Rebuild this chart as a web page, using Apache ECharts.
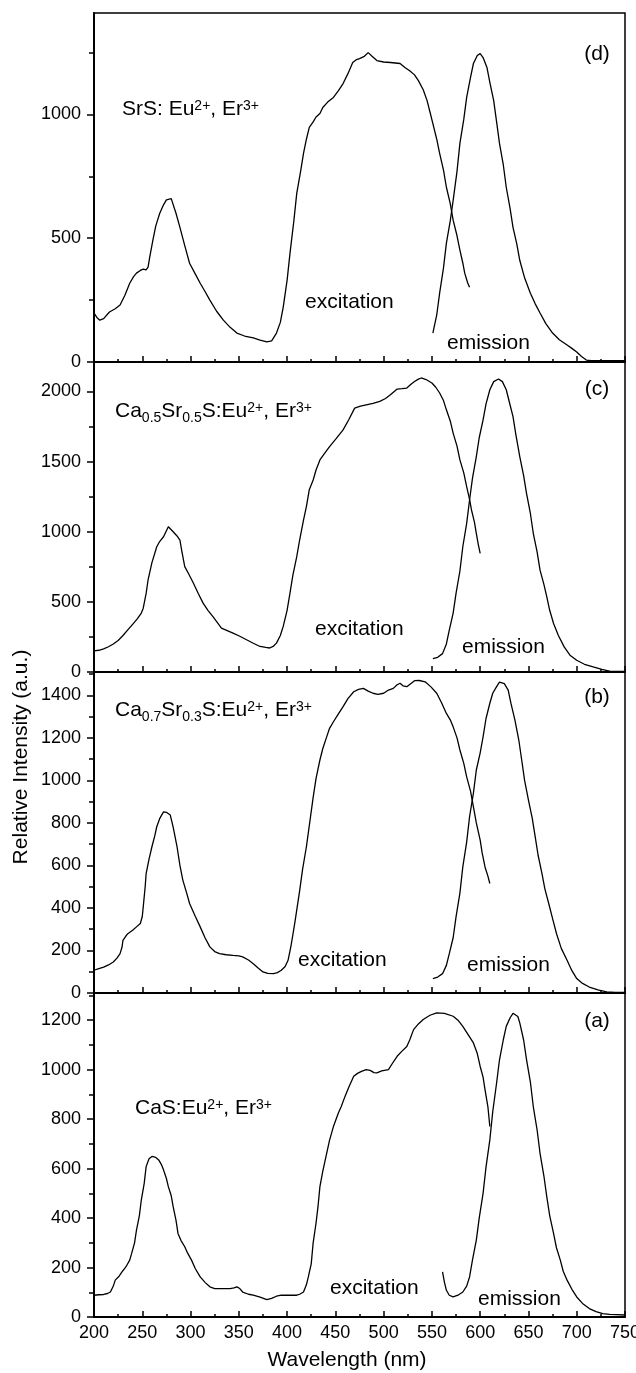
<!DOCTYPE html>
<html>
<head>
<meta charset="utf-8">
<script src="https://cdn.jsdelivr.net/npm/echarts@6/dist/echarts.min.js"></script>
<style>
html, body { margin: 0; padding: 0; background: #fff; }
#main { width: 636px; height: 1373px; }
</style>
</head>
<body>
<div id="main"></div>
<script>
// panels top to bottom: (d) SrS, (c) Ca0.5Sr0.5S, (b) Ca0.7Sr0.3S, (a) CaS
var wavelengthTicks = [200, 250, 300, 350, 400, 450, 500, 550, 600, 650, 700, 750];
var panelTags = ['(d)', '(c)', '(b)', '(a)'];
var yMax = [1410, 2210, 1510, 1310];
var yMajor = [
    [0, 500, 1000],
    [0, 500, 1000, 1500, 2000],
    [0, 200, 400, 600, 800, 1000, 1200, 1400],
    [0, 200, 400, 600, 800, 1000, 1200]
];
var yMinor = [
    [250, 750, 1250],
    [250, 750, 1250, 1750],
    [100, 300, 500, 700, 900, 1100, 1300, 1500],
    [100, 300, 500, 700, 900, 1100, 1300]
];

// [wavelength nm, intensity]
var exD = [[200,197],[203,180],[206,169],[210,175],[216,202],[222,215],[227,230],[232,270],[237,318],[241,345],[244,359],[248,370],[251,375],[254,372],[256,383],[258,430],[261,492],[264,550],[268,600],[272,635],[275,655],[277,661],[280,660],[282,653],[285,600],[289,544],[294,470],[299,399],[305,355],[310,318],[315,285],[320,250],[327,205],[334,169],[341,140],[348,117],[356,105],[365,97],[372,88],[379,81],[384,85],[389,117],[393,160],[396,222],[400,330],[403,439],[407,570],[410,681],[414,770],[417,843],[420,900],[423,948],[427,970],[430,990],[434,1004],[437,1028],[442,1050],[448,1069],[453,1095],[458,1125],[463,1165],[468,1210],[472,1222],[475,1226],[480,1235],[484,1250],[488,1235],[493,1218],[500,1212],[507,1210],[512,1208],[517,1206],[522,1190],[527,1177],[532,1160],[536,1137],[541,1100],[545,1056],[548,1010],[551,963],[555,900],[558,843],[562,775],[565,706],[569,640],[572,573],[576,510],[579,452],[582,400],[584,359],[587,320],[589,302]];
var emD = [[551,117],[555,190],[558,278],[562,380],[565,480],[569,570],[572,653],[576,770],[579,883],[583,980],[586,1069],[590,1150],[593,1206],[597,1238],[600,1246],[603,1230],[607,1190],[610,1130],[614,1056],[617,970],[620,883],[624,795],[627,706],[631,620],[634,544],[638,475],[641,411],[646,340],[652,278],[657,235],[662,198],[668,155],[675,117],[682,90],[690,69],[695,55],[700,40],[705,22],[710,8],[715,5],[730,5],[750,5]];

var exC = [[200,150],[205,155],[210,165],[215,180],[220,200],[225,225],[230,260],[235,300],[240,340],[245,380],[249,420],[251,455],[254,560],[256,656],[260,780],[265,893],[268,930],[272,964],[277,1036],[279,1030],[282,1000],[286,970],[289,941],[291,860],[294,751],[298,700],[303,633],[308,560],[313,491],[318,440],[323,396],[328,350],[332,313],[338,295],[344,277],[351,255],[358,230],[365,205],[372,182],[378,175],[382,171],[386,185],[389,206],[393,260],[396,325],[400,440],[403,562],[406,690],[410,822],[413,941],[417,1083],[420,1179],[423,1300],[427,1369],[430,1440],[434,1512],[439,1560],[444,1607],[451,1665],[458,1726],[464,1800],[470,1881],[476,1895],[482,1905],[489,1915],[496,1929],[502,1950],[507,1976],[511,2000],[514,2017],[519,2020],[524,2024],[528,2050],[532,2071],[536,2088],[539,2096],[544,2085],[550,2060],[554,2030],[558,1989],[562,1935],[565,1869],[569,1790],[572,1703],[576,1610],[579,1512],[583,1420],[586,1321],[589,1230],[591,1155],[594,1070],[596,989],[598,910],[600,846]];
var emC = [[551,96],[556,105],[561,131],[565,200],[568,298],[572,420],[575,560],[579,720],[582,893],[586,1060],[589,1226],[592,1380],[596,1536],[599,1670],[603,1798],[606,1910],[610,2012],[614,2070],[619,2089],[623,2070],[627,2012],[630,1930],[634,1821],[637,1690],[641,1536],[645,1400],[648,1274],[652,1130],[655,989],[659,855],[662,726],[666,625],[669,536],[672,440],[676,346],[681,260],[687,179],[693,120],[700,84],[708,55],[717,36],[726,18],[735,5],[750,5]];

var exB = [[200,107],[205,115],[210,122],[215,132],[220,146],[224,165],[227,185],[229,215],[230,248],[233,268],[235,279],[240,295],[244,311],[248,327],[250,360],[251,405],[253,500],[254,562],[257,630],[260,688],[263,740],[265,782],[268,820],[272,852],[275,850],[279,837],[282,780],[286,688],[289,600],[292,531],[296,470],[299,421],[305,360],[310,311],[315,260],[320,217],[325,195],[330,185],[337,180],[344,177],[350,175],[354,170],[360,155],[365,138],[370,118],[375,99],[380,92],[386,91],[390,96],[394,107],[398,125],[401,154],[404,220],[408,330],[411,420],[413,480],[416,580],[420,688],[424,820],[427,920],[430,1010],[434,1096],[437,1150],[441,1205],[444,1245],[448,1276],[453,1312],[458,1347],[463,1385],[469,1417],[474,1428],[479,1433],[484,1420],[489,1410],[494,1405],[500,1410],[505,1425],[510,1433],[514,1450],[517,1457],[520,1445],[524,1441],[528,1455],[532,1469],[537,1470],[543,1464],[549,1440],[555,1410],[560,1365],[565,1315],[569,1285],[572,1252],[576,1200],[579,1143],[583,1080],[586,1017],[590,950],[593,876],[596,800],[600,719],[602,660],[605,593],[608,550],[610,515]];
var emB = [[551,68],[556,75],[561,91],[565,130],[568,185],[572,260],[575,358],[579,470],[582,593],[586,710],[589,829],[593,940],[596,1049],[600,1130],[603,1205],[606,1290],[610,1363],[613,1410],[617,1441],[620,1462],[622,1469],[625,1455],[629,1425],[632,1360],[636,1284],[640,1190],[643,1096],[646,1000],[650,907],[654,820],[657,734],[660,648],[664,562],[667,490],[671,421],[675,350],[679,280],[684,210],[690,154],[695,105],[700,68],[706,45],[713,28],[722,15],[731,5],[740,3],[750,3]];

var exA = [[200,88],[205,90],[210,91],[214,95],[217,101],[220,125],[222,149],[226,165],[229,182],[232,198],[234,209],[237,230],[239,257],[242,300],[244,351],[247,410],[249,473],[252,540],[254,608],[257,640],[260,649],[264,645],[267,635],[270,615],[272,595],[275,560],[277,527],[280,490],[282,446],[285,390],[287,338],[290,310],[294,284],[297,258],[301,230],[305,195],[310,162],[315,140],[320,122],[325,115],[330,115],[335,115],[341,115],[345,118],[348,122],[351,115],[354,101],[360,92],[365,88],[372,80],[379,70],[384,75],[389,84],[394,88],[399,88],[405,88],[410,88],[413,92],[417,101],[420,130],[422,162],[425,215],[427,300],[430,380],[432,446],[434,527],[437,590],[441,662],[444,715],[448,770],[453,824],[456,850],[460,892],[464,930],[469,973],[473,985],[477,993],[482,1000],[486,997],[490,988],[493,987],[498,995],[505,1000],[509,1025],[514,1054],[519,1075],[524,1094],[527,1120],[531,1162],[536,1185],[541,1203],[548,1220],[555,1230],[563,1228],[572,1216],[577,1200],[582,1175],[587,1145],[593,1108],[597,1065],[600,1013],[603,970],[605,919],[608,850],[610,770]];
var emA = [[561,182],[563,140],[565,108],[568,88],[572,81],[577,88],[582,101],[586,125],[589,162],[592,230],[596,311],[599,400],[603,500],[606,605],[610,716],[613,830],[617,946],[620,1040],[624,1122],[627,1175],[631,1210],[634,1228],[636,1230],[639,1215],[641,1189],[645,1120],[648,1041],[652,950],[655,851],[659,755],[662,662],[666,570],[669,486],[672,410],[676,338],[679,280],[683,230],[686,185],[690,149],[695,112],[700,81],[706,55],[713,34],[720,22],[727,14],[734,11],[741,10],[750,8]];

var excitation = [exD, exC, exB, exA];
var emission = [emD, emC, emB, emA];

var FONT = '"Liberation Sans", Arial, Helvetica, sans-serif';
var gridTop = [13, 362, 672, 993];
var gridHeight = [349, 310, 321, 324];

var myChart = echarts.init(document.getElementById('main'));

function plain(v) {
    return String(v);
}

var grids = [], xAxes = [], yAxes = [], series = [];
for (var i = 0; i < 4; i++) {
    grids.push({
        left: 94, width: 531, top: gridTop[i], height: gridHeight[i],
        containLabel: false, outerBoundsMode: 'none',
        show: true, borderColor: '#000', borderWidth: 1.5, backgroundColor: 'transparent'
    });
    xAxes.push({
        type: 'value', gridIndex: i, min: 200, max: 750, interval: 50,
        axisLine: {show: true, onZero: false, lineStyle: {color: '#000', width: 2}},
        axisTick: {show: true, inside: true, length: 6, lineStyle: {color: '#000', width: 1.5}},
        minorTick: {show: true, splitNumber: 2, length: 3, lineStyle: {color: '#000', width: 1.5}},
        axisLabel: {show: i === 3, color: '#000', fontSize: 18, fontFamily: FONT, margin: 7,
            customValues: wavelengthTicks, formatter: plain, hideOverlap: false},
        splitLine: {show: false}
    });
    yAxes.push({
        type: 'value', gridIndex: i, min: 0, max: yMax[i],
        interval: yMajor[i][1] - yMajor[i][0],
        axisLine: {show: true, onZero: false, lineStyle: {color: '#000', width: 2}},
        axisTick: {show: true, inside: false, length: 7, customValues: yMajor[i],
            lineStyle: {color: '#000', width: 1.5}},
        axisLabel: {color: '#000', fontSize: 18, fontFamily: FONT, margin: 13,
            customValues: yMajor[i], formatter: plain, hideOverlap: false},
        splitLine: {show: false}
    });
}
// second y axis in each panel, only for the short minor ticks
for (var j = 0; j < 4; j++) {
    yAxes.push({
        type: 'value', gridIndex: j, position: 'left', offset: 0, min: 0, max: yMax[j],
        axisLine: {show: false},
        axisTick: {show: true, inside: false, length: 5, customValues: yMinor[j],
            lineStyle: {color: '#000', width: 1.5}},
        axisLabel: {show: false},
        splitLine: {show: false}
    });
}
for (var k = 0; k < 4; k++) {
    [excitation[k], emission[k]].forEach(function (d, n) {
        series.push({
            name: n === 0 ? 'excitation' : 'emission',
            type: 'line', xAxisIndex: k, yAxisIndex: k, data: d,
            showSymbol: false, symbol: 'none', smooth: false,
            lineStyle: {color: '#000', width: 1.3},
            silent: true
        });
    });
}

var rich = {
    m: {fontSize: 21, fontFamily: FONT, color: '#000', lineHeight: 22},
    sup: {fontSize: 14, fontFamily: FONT, color: '#000', verticalAlign: 'top', height: 17},
    sub: {fontSize: 14, fontFamily: FONT, color: '#000', verticalAlign: 'bottom', height: 8}
};
function txt(x, y, s, align) {
    return {
        type: 'text', x: x, y: y, silent: true,
        style: {text: s, rich: rich, fill: '#000', font: '21px ' + FONT,
            textAlign: align || 'left', textVerticalAlign: 'middle'}
    };
}
var sampleLabels = [
    '{m|SrS: Eu}{sup|2+}{m|, Er}{sup|3+}',
    '{m|Ca}{sub|0.5}{m|Sr}{sub|0.5}{m|S:Eu}{sup|2+}{m|, Er}{sup|3+}',
    '{m|Ca}{sub|0.7}{m|Sr}{sub|0.3}{m|S:Eu}{sup|2+}{m|, Er}{sup|3+}',
    '{m|CaS:Eu}{sup|2+}{m|, Er}{sup|3+}'
];
var graphics = [
    txt(122, 109, sampleLabels[0]),
    txt(115, 411, sampleLabels[1]),
    txt(115, 710, sampleLabels[2]),
    txt(135, 1108, sampleLabels[3]),
    txt(597, 54, '{m|' + panelTags[0] + '}', 'center'),
    txt(597, 389, '{m|' + panelTags[1] + '}', 'center'),
    txt(597, 697, '{m|' + panelTags[2] + '}', 'center'),
    txt(597, 1021, '{m|' + panelTags[3] + '}', 'center'),
    txt(305, 302, '{m|excitation}'),
    txt(447, 343, '{m|emission}'),
    txt(315, 629, '{m|excitation}'),
    txt(462, 647, '{m|emission}'),
    txt(298, 960, '{m|excitation}'),
    txt(467, 965, '{m|emission}'),
    txt(330, 1288, '{m|excitation}'),
    txt(478, 1299, '{m|emission}'),
    txt(347, 1360, '{m|Wavelength (nm)}', 'center'),
    {
        type: 'text', x: 21, y: 757, rotation: Math.PI / 2, silent: true,
        style: {text: 'Relative Intensity (a.u.)', fill: '#000', font: '21px ' + FONT,
            textAlign: 'center', textVerticalAlign: 'middle'}
    }
];

var option = {
    animation: false,
    backgroundColor: '#fff',
    grid: grids,
    xAxis: xAxes,
    yAxis: yAxes,
    series: series,
    graphic: graphics
};
myChart.setOption(option);
</script>
</body>
</html>
